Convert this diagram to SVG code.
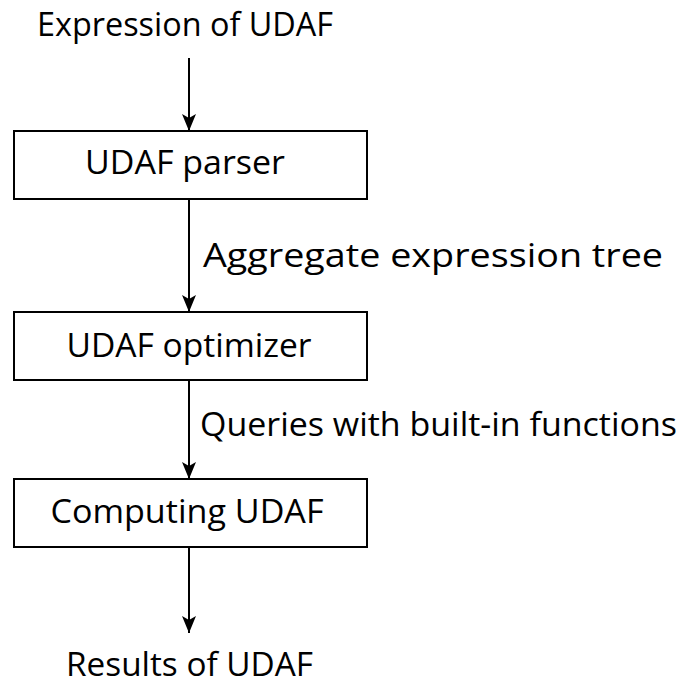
<svg xmlns="http://www.w3.org/2000/svg" width="683" height="686" viewBox="0 0 683 686">
<style>
text{font-family:"Open Sans","Liberation Sans",sans-serif;font-size:32px;fill:#000}
.box{fill:#fff;stroke:#000;stroke-width:2}
.c{text-anchor:middle}
.edge{stroke:#000;stroke-width:2;fill:none;marker-end:url(#ah)}
</style>
<defs>
<marker id="ah" markerUnits="userSpaceOnUse" markerWidth="18" markerHeight="16" refX="17" refY="8" viewBox="0 0 18 16" orient="auto">
<path d="M0,1 L17,8 L0,15 L4,8 Z" fill="#000"/>
</marker>
</defs>
<rect width="683" height="686" fill="#fff"/>
<g id="connectors">
<line class="edge" x1="189" y1="58" x2="189" y2="131"/>
<line class="edge" x1="189" y1="199" x2="189" y2="312"/>
<line class="edge" x1="189" y1="380" x2="189" y2="479"/>
<line class="edge" x1="189" y1="547" x2="189" y2="633"/>
<text x="203" y="267" textLength="460" lengthAdjust="spacingAndGlyphs">Aggregate expression tree</text>
<text x="200" y="436" textLength="477" lengthAdjust="spacingAndGlyphs">Queries with built-in functions</text>
</g>
<g id="input"><text class="c" x="185" y="36" textLength="296" lengthAdjust="spacingAndGlyphs">Expression of UDAF</text></g>
<g id="parser"><rect class="box" x="14" y="131" width="353" height="68"/><text class="c" x="185" y="174" textLength="200" lengthAdjust="spacingAndGlyphs">UDAF parser</text></g>
<g id="optimizer"><rect class="box" x="14" y="312" width="353" height="68"/><text class="c" x="189" y="357" textLength="245" lengthAdjust="spacingAndGlyphs">UDAF optimizer</text></g>
<g id="computing"><rect class="box" x="14" y="479" width="353" height="68"/><text class="c" x="187" y="523" textLength="273" lengthAdjust="spacingAndGlyphs">Computing UDAF</text></g>
<g id="output"><text class="c" x="189.5" y="676" textLength="247" lengthAdjust="spacingAndGlyphs">Results of UDAF</text></g>
</svg>
